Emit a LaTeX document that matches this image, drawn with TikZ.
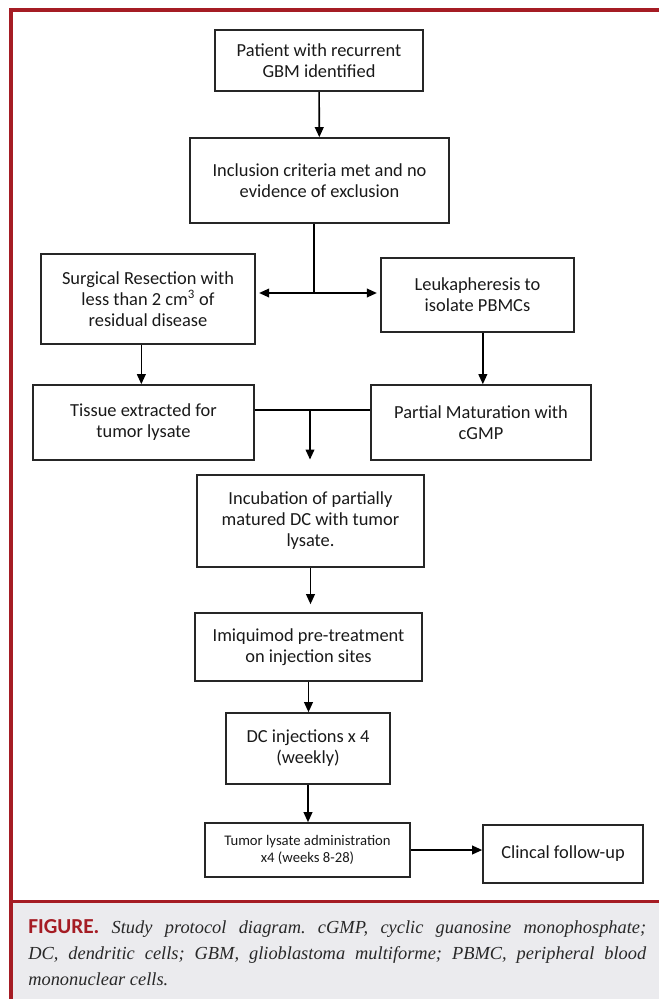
\documentclass[tikz,border=0pt]{standalone}
\usepackage{fontspec}
\setmainfont{Carlito}
\newfontfamily\capfont{Liberation Serif}
\usepackage{tikz}
\usetikzlibrary{arrows.meta}
\definecolor{figred}{RGB}{165,28,36}
\definecolor{capgray}{RGB}{235,235,238}
\definecolor{captext}{RGB}{40,40,40}
\frenchspacing
\tikzset{
  font={\fontsize{13.8pt}{15.75pt}\selectfont},
  box/.style n args={2}{draw=black!85, line width=1.2pt, align=center, inner sep=2pt,
    text=black!90, minimum width=#1*0.75pt, minimum height=#2*0.75pt},
  arr/.style={line width=1.2pt, -{Triangle[length=7.5pt,width=6.5pt]}},
  darr/.style={line width=1.2pt, {Triangle[length=7.5pt,width=6.5pt]}-{Triangle[length=7.5pt,width=6.5pt]}}}

\begin{document}
\begin{tikzpicture}[x=0.75pt,y=-0.75pt]
\useasboundingbox (0,0) rectangle (659,999);
\fill [capgray] (13,902) rectangle (659,999);
\fill [figred] (9,8) rectangle (659,12.5);
\fill [figred] (9,8) rectangle (13,999);
\fill [figred] (13,900) rectangle (659,902.5);
\node [box={208}{61}] (patient) at (319,60.5) {Patient with recurrent\\GBM identified};
\node [box={259}{85}] (incl) at (319.5,180.5) {Inclusion criteria met and no\\evidence of exclusion};
\node [box={214}{90}] (surg) at (148,299) {Surgical Resection with\\less than 2 cm\textsuperscript{3} of\\residual disease};
\node [box={193}{74}] (leuk) at (477.5,295) {Leukapheresis to\\isolate PBMCs};
\node [box={221}{75}] (tissue) at (143.5,422.5) {Tissue extracted for\\tumor lysate};
\node [box={220}{75}] (partial) at (481,422.5) {Partial Maturation with\\cGMP};
\node [box={227}{92}] (incub) at (310.5,521) {Incubation of partially\\matured DC with tumor\\lysate.};
\node [box={227}{68}] (imiq) at (308.5,647) {Imiquimod pre-treatment\\on injection sites};
\node [box={164}{71}] (dcinj) at (308,748.5) {DC injections x 4\\(weekly)};
\node [box={205}{54}, font={\fontsize{11pt}{12.75pt}\selectfont}] (lysate) at (307.5,850) {Tumor lysate administration\\x4 (weeks 8-28)};
\node [box={160}{58}] (followup) at (563,854) {Clincal follow-up};
\coordinate (split) at (314,293);
\coordinate (merge) at (310,410);
\draw [arr] (patient) -- (incl);
\draw [line width=1.2pt] (incl.south -| split) -- (split);
\draw [darr, shorten <=2.5pt, shorten >=2.5pt] (split -| surg.east) -- (split -| leuk.west);
\draw [arr] ([xshift=-5pt]surg.south) -- ([xshift=-5pt]surg.south |- tissue.north);
\draw [arr] ([xshift=4pt]leuk.south) -- ([xshift=4pt]leuk.south |- partial.north);
\draw [line width=1.2pt] (merge -| tissue.east) -- (merge -| partial.west);
\draw [arr, shorten >=11pt] (merge) -- (merge |- incub.north);
\draw [arr, shorten >=6pt] (incub.south) -- (incub.south |- imiq.north);
\draw [arr] (imiq.south) -- (imiq.south |- dcinj.north);
\draw [arr] (dcinj.south) -- (dcinj.south |- lysate.north);
\draw [arr] (lysate.east) -- (lysate.east -| followup.west);
\node [anchor=north west, inner sep=0pt, text width=463.5pt, align=justify,
  font={\capfont\itshape\fontsize{13.8pt}{19.5pt}\selectfont}, text=captext] (caption) at (28,919)
  {{\fontspec{Carlito}\upshape\bfseries\fontsize{16pt}{19.5pt}\selectfont\color{figred}FIGURE.} Study protocol diagram. cGMP, cyclic guanosine monophosphate;\linebreak
  DC, dendritic cells; GBM, glioblastoma multiforme; PBMC, peripheral blood\linebreak
  mononuclear cells.};
\end{tikzpicture}
\end{document}
